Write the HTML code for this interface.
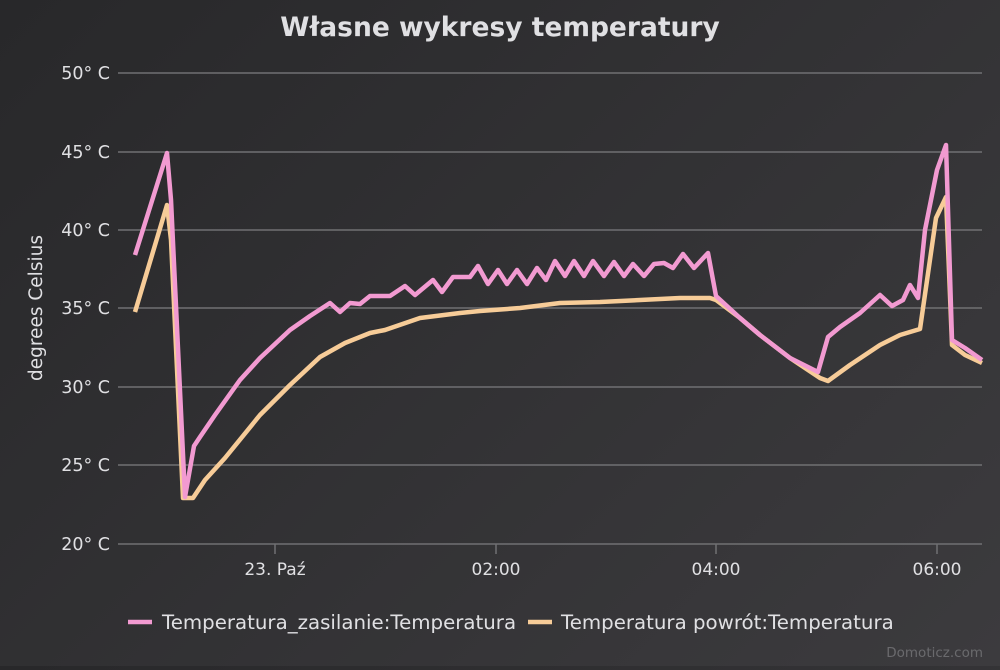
<!DOCTYPE html>
<html><head><meta charset="utf-8"><style>
body{margin:0;width:1000px;height:666px;overflow:hidden;background:linear-gradient(135deg,#28282a,#3c3b3e);font-family:"DejaVu Sans","Liberation Sans",sans-serif;}
</style></head><body>
<svg width="1000" height="666" xmlns="http://www.w3.org/2000/svg">
<text x="500" y="36" text-anchor="middle" font-size="26.5" font-weight="bold" fill="#e0e0e3" font-family="DejaVu Sans,sans-serif">Własne wykresy temperatury</text>
<g stroke="#707073" stroke-width="1.5">
<line x1="118" x2="982" y1="73" y2="73"/><line x1="118" x2="982" y1="152" y2="152"/>
<line x1="118" x2="982" y1="230" y2="230"/><line x1="118" x2="982" y1="308" y2="308"/>
<line x1="118" x2="982" y1="387" y2="387"/><line x1="118" x2="982" y1="465" y2="465"/>
<line x1="118" x2="982" y1="544" y2="544"/>
<line x1="275" x2="275" y1="544" y2="554"/><line x1="496" x2="496" y1="544" y2="554"/>
<line x1="716" x2="716" y1="544" y2="554"/><line x1="937" x2="937" y1="544" y2="554"/>
</g>
<g fill="#e0e0e3" font-size="17.5" text-anchor="end">
<text x="110" y="79">50° C</text><text x="110" y="158">45° C</text><text x="110" y="236">40° C</text>
<text x="110" y="314">35° C</text><text x="110" y="393">30° C</text><text x="110" y="471">25° C</text><text x="110" y="550">20° C</text>
</g>
<g fill="#e0e0e3" font-size="17" text-anchor="middle">
<text x="275" y="575">23. Paź</text><text x="496" y="575">02:00</text><text x="716" y="575">04:00</text><text x="937" y="575">06:00</text>
</g>
<text transform="translate(42,308) rotate(-90)" text-anchor="middle" fill="#e0e0e3" font-size="18.5">degrees Celsius</text>
<polyline fill="none" stroke="#f7cc98" stroke-width="4.5" stroke-linejoin="round" points="135,312 167,205 171,240 183,498 193,498 205,480 225,458 260,415 290,385 320,357 345,343 370,333 385,330 420,318 460,313 480,311 520,308 560,303 600,302 640,300 680,298 710,298 716,300 740,318 760,335 790,358 820,378 828,381 850,365 880,345 900,335 920,329 936,218 946,197 952,345 965,355 982,363"/>
<polyline fill="none" stroke="#f29ad1" stroke-width="4.5" stroke-linejoin="round" points="135,255 167,153 171,200 185,497 194,446 200,437 215,415 240,380 260,358 290,330 310,316 330,303 340,312 350,303 360,304 370,296 390,296 405,286 415,295 433,280 442,292 453,277 470,277 478,266 488,284 498,270 507,284 517,270 527,284 537,268 546,280 555,261 565,276 574,261 584,276 593,261 604,276 614,262 624,276 633,264 644,276 654,264 664,263 673,268 683,254 694,268 708,253 716,296 740,318 760,335 790,358 818,372 828,337 840,327 860,313 880,295 892,306 903,300 910,285 918,298 925,230 937,170 946,145 952,340 965,348 982,360"/>
<line x1="128" x2="152" y1="622" y2="622" stroke="#f29ad1" stroke-width="4.5"/>
<text x="162" y="629" fill="#e0e0e3" font-size="19.8">Temperatura_zasilanie:Temperatura</text>
<line x1="528" x2="552" y1="622" y2="622" stroke="#f7cc98" stroke-width="4.5"/>
<text x="561" y="629" fill="#e0e0e3" font-size="19.8">Temperatura powrót:Temperatura</text>
<text x="983" y="657" text-anchor="end" fill="#6a6a6d" font-size="13.5">Domoticz.com</text>
</svg>
</body></html>
